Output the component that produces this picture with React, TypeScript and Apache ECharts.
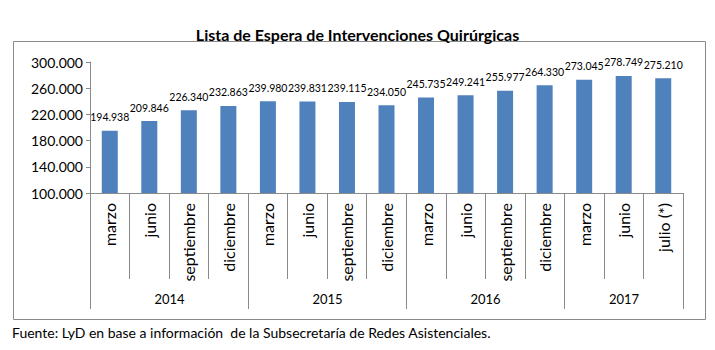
import React, { useEffect, useRef } from "react";
import * as echarts from "echarts";

const categories = [
  "marzo", "junio", "septiembre", "diciembre",
  "marzo", "junio", "septiembre", "diciembre",
  "marzo", "junio", "septiembre", "diciembre",
  "marzo", "junio", "julio (*)",
];
const values = [
  194938, 209846, 226340, 232863,
  239980, 239831, 239115, 234050,
  245735, 249241, 255977, 264330,
  273045, 278749, 275210,
];
const years = ["2014", "2015", "2016", "2017"];
const yearStart = [0, 4, 8, 12];
const yearEnd = [3, 7, 11, 14];

const Y_MIN = 100000;
const Y_MAX = 300000;
const Y_STEP = 40000;

const FONT = "Lato, 'Open Sans', sans-serif";
const AXIS_COLOR = "#8a8a8a";

function fmt(v: number): string {
  const s = Math.round(v).toString();
  return s.replace(/\B(?=(\d{3})+(?!\d))/g, ".");
}

export default function App() {
  const ref = useRef<HTMLDivElement>(null);
  useEffect(() => {
    document.body.style.margin = "0";
    if (!ref.current) return;
    const chart = echarts.init(ref.current, undefined, { renderer: "svg" });
    chart.setOption({
      animation: false,
      backgroundColor: "#ffffff",
      textStyle: { fontFamily: FONT },
      title: {
        text: "Lista de Espera de Intervenciones Quirúrgicas",
        left: "center",
        top: 21,
        textStyle: { fontFamily: FONT, fontSize: 16, fontWeight: "bold", color: "#000" },
      },
      graphic: [
        {
          type: "rect",
          shape: { x: 13.5, y: 41.5, width: 692, height: 278 },
          style: { fill: "none", stroke: AXIS_COLOR, lineWidth: 1 },
          silent: true,
        },
        {
          type: "text",
          x: 12,
          y: 332,
          style: {
            text: "Fuente: LyD en base a información  de la Subsecretaría de Redes Asistenciales.",
            fontFamily: FONT,
            fontSize: 14,
            fill: "#000",
            verticalAlign: "middle",
          },
        },
      ],
      grid: { left: 90, right: 32, top: 62, bottom: 157, containLabel: false },
      xAxis: {
        type: "category",
        data: categories,
        axisLine: { show: true, lineStyle: { color: AXIS_COLOR } },
        axisTick: { show: true, interval: 0, length: 86, lineStyle: { color: AXIS_COLOR } },
        axisLabel: {
          interval: 0,
          rotate: 90,
          margin: 10,
          fontFamily: FONT,
          fontSize: 16,
          color: "#000",
        },
        splitLine: { show: false },
      },
      yAxis: {
        type: "value",
        min: Y_MIN,
        max: Y_MAX,
        interval: Y_STEP,
        axisLine: { show: true, lineStyle: { color: AXIS_COLOR } },
        axisTick: { show: true, length: 4, lineStyle: { color: AXIS_COLOR } },
        axisLabel: {
          margin: 7,
          fontFamily: FONT,
          fontSize: 14,
          color: "#000",
          formatter: (v: number) => fmt(v),
        },
        splitLine: { show: false },
      },
      series: [
        {
          type: "bar",
          data: values,
          barWidth: 16,
          itemStyle: { color: "#4F81BD" },
          label: {
            show: true,
            position: "top",
            distance: 8,
            fontFamily: FONT,
            fontSize: 10.5,
            color: "#000",
            formatter: (p: any) => fmt(p.value),
          },
        },
        {
          type: "custom",
          coordinateSystem: "cartesian2d",
          clip: false,
          silent: true,
          encode: { x: 0, y: 1 },
          data: years.map((y, i) => [yearStart[i], Y_MIN, yearEnd[i]]),
          renderItem: (params: any, api: any) => {
            const i = params.dataIndex;
            const s = api.value(0);
            const e = api.value(2);
            const bw = api.size([1, 0])[0];
            const p0 = api.coord([s, Y_MIN]);
            const p1 = api.coord([e, Y_MIN]);
            const x0 = Math.round(p0[0] - bw / 2) + 0.5;
            const x1 = Math.round(p1[0] + bw / 2) + 0.5;
            const y0 = p0[1];
            return {
              type: "group",
              children: [
                {
                  type: "line",
                  shape: { x1: x0, y1: y0, x2: x0, y2: y0 + 116 },
                  style: { stroke: AXIS_COLOR, lineWidth: 1 },
                },
                {
                  type: "line",
                  shape: { x1: x1, y1: y0, x2: x1, y2: y0 + 116 },
                  style: { stroke: AXIS_COLOR, lineWidth: 1 },
                },
                {
                  type: "text",
                  style: {
                    text: years[i],
                    x: (x0 + x1) / 2,
                    y: y0 + 106,
                    align: "center",
                    verticalAlign: "middle",
                    fontFamily: FONT,
                    fontSize: 13,
                    fill: "#000",
                  },
                },
              ],
            };
          },
        },
      ],
    });
    return () => chart.dispose();
  }, []);
  return <div ref={ref} style={{ width: 715, height: 350 }} />;
}
